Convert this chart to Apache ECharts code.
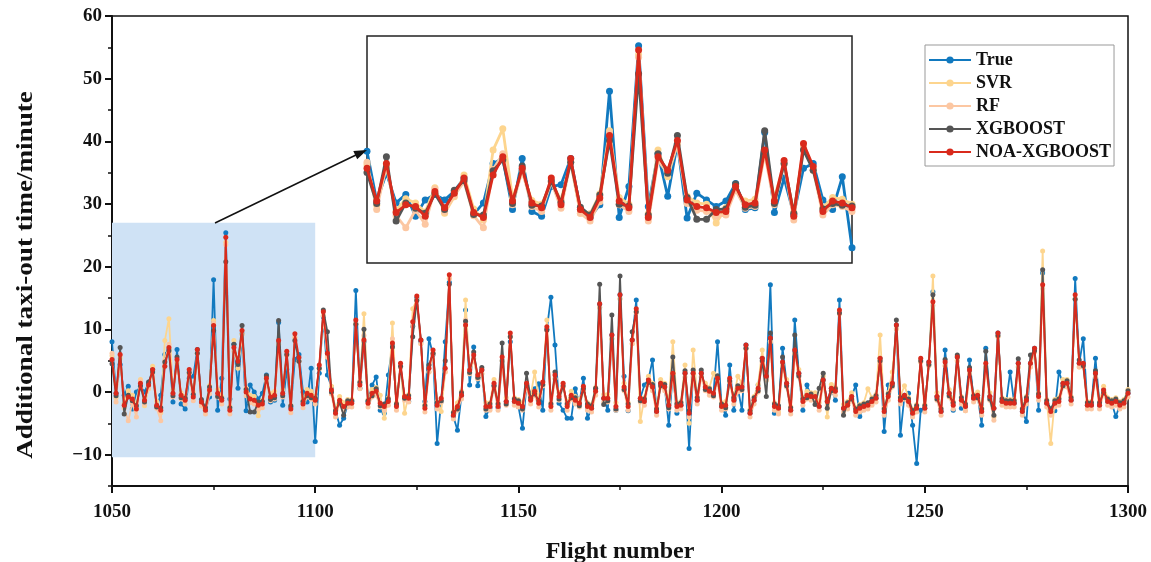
<!DOCTYPE html>
<html>
<head>
<meta charset="utf-8">
<script src="https://cdn.jsdelivr.net/npm/echarts/dist/echarts.min.js"></script>
<style>
  html, body { margin: 0; padding: 0; background: #fff; }
  #chart { width: 1151px; height: 562px; }
</style>
</head>
<body>
<div id="chart"></div>
<script>
// flight numbers run 1050 .. 1300, one value per flight
const firstFlight = 1050
const lastFlight = 1300

const trueVals = [
  8.0, -0.2, 4.4, -0.5, 0.9, -2.7, 0.0, 0.9, 0.0, 1.4,
  3.6, -2.4, -0.5, 6.0, 6.8, -1.6, 6.8, -1.9, -2.7, 2.2,
  2.5, 6.8, -1.6, -2.9, -0.8, 17.9, -2.9, 2.2, 25.4, -1.1,
  7.6, 0.6, 9.3, -3.0, 1.1, 0.0, -1.1, -0.2, 2.7, -1.6,
  -1.3, 11.1, -2.1, 3.6, -2.4, 5.2, 6.0, 0.0, -1.6, 3.8,
  -7.9, 3.0, 12.0, 2.7, 0.8, -3.0, -5.3, -4.2, -2.0, -1.5,
  16.2, 0.6, 8.0, -1.5, 1.1, 2.4, -2.9, -3.4, 2.7, 7.5,
  -2.0, 4.0, -1.0, -1.5, 10.5, 15.0, 8.0, -1.5, 8.5, 6.0,
  -8.2, -1.5, 8.0, 17.5, -3.9, -6.1, -0.5, 13.1, 1.1, 7.2,
  1.0, 3.5, -3.9, -2.5, 1.0, -2.5, 5.0, -1.5, 8.0, -1.5,
  -2.3, -5.8, 1.0, -0.2, 0.5, 1.3, -2.9, 10.0, 15.1, 7.5,
  -1.8, -2.9, -4.2, -4.2, 0.5, -1.8, 2.2, -4.2, -2.6, 0.5,
  14.0, -1.0, -2.9, 9.1, -2.9, 15.5, 2.5, -3.0, 8.3, 14.7,
  -1.0, 1.1, 2.0, 5.1, -3.1, 1.4, 0.8, -5.3, 3.0, -3.4,
  -2.1, 3.0, -9.0, 3.0, -1.3, 3.0, 0.8, 0.1, -0.2, 8.0,
  -2.3, -3.7, 4.3, -2.9, 0.6, -2.9, 7.5, -3.4, -1.3, 1.1,
  5.4, 2.5, 17.1, -3.4, -2.6, 7.0, 1.4, -2.9, 11.5, 3.0,
  -2.9, 1.1, -0.7, -0.7, -2.3, 1.9, -1.5, 0.6, -1.3, 14.7,
  -2.6, -2.1, -0.7, 1.1, -3.9, -2.3, -2.1, -1.5, -1.0, 5.4,
  -6.3, 1.1, 1.4, 10.7, -6.9, -0.5, -0.2, -5.3, -11.4, -2.9,
  -2.6, 4.8, 16.0, -0.7, -3.1, 6.7, -0.2, -2.9, 5.6, -2.6,
  -2.3, 5.1, -1.0, -0.5, -5.3, 7.0, -0.7, -2.6, 9.4, -1.5,
  -1.8, 3.2, -1.8, 4.6, -3.1, -4.7, 4.6, 7.0, -2.9, 19.0,
  -1.8, -3.1, -3.0, 3.2, 1.4, 1.4, -1.3, 18.1, 4.6, 8.5,
  -2.1, -2.1, 5.4, -2.1, 0.3, -1.5, -1.8, -3.9, -2.1, -1.8,
  -0.2
]

const svrVals = [
  5.8, -0.9, 5.4, -1.8, 0.2, -0.5, -2.0, 2.0, -2.2, 0.5,
  4.1, -1.5, -3.3, 8.2, 11.7, 0.4, 4.6, -0.1, -0.7, 2.9,
  0.0, 6.2, -2.2, -2.3, 1.0, 11.4, 0.4, -0.7, 23.9, -2.3,
  8.2, 3.8, 9.2, 0.6, -0.5, -0.7, -3.8, -1.3, 1.6, -0.2,
  0.1, 7.6, 0.4, 5.9, -2.1, 8.7, 4.9, -1.3, 0.4, 0.1,
  -0.7, 3.7, 12.2, 5.6, 0.9, -2.8, -0.7, -1.7, -1.2, -1.2,
  10.9, 1.7, 12.5, -1.2, 0.4, 0.7, -0.5, -4.2, -0.9, 11.0,
  -1.7, 4.0, -3.4, -0.4, 13.3, 14.7, 7.7, -2.0, 3.2, 6.1,
  -1.5, -3.1, 3.2, 18.1, -3.1, -1.7, 0.1, 14.7, 2.9, 5.3,
  2.1, 2.9, -1.7, -1.7, 2.0, -1.7, 5.0, -0.9, 8.8, -0.9,
  -1.2, -1.7, 0.8, -0.7, 3.2, -1.2, 1.0, 11.5, -1.7, 2.1,
  -0.1, 0.8, -1.7, 0.1, -0.7, -1.2, 0.3, -1.7, -2.0, 0.7,
  13.5, -0.4, -0.4, 8.5, -1.7, 14.9, 1.4, -1.7, 7.7, 12.7,
  -4.7, -0.9, 2.5, 1.4, -2.5, 2.0, 1.4, -1.5, 8.0, -1.7,
  -1.5, 4.3, -5.0, 6.7, -0.7, 2.4, 1.4, 0.7, 3.0, 1.6,
  -1.7, -1.5, 1.6, -0.7, 2.5, 1.4, 6.9, -2.8, -0.7, 1.2,
  6.7, 1.9, 8.0, -1.7, -3.2, 4.2, 2.0, -2.3, 6.1, 3.6,
  -0.9, 0.1, -0.1, -0.1, -1.7, 2.5, -4.0, 1.2, 0.7, 12.5,
  -2.0, -1.5, -0.1, -2.5, -2.0, -1.7, 0.5, -0.9, -0.4, 9.1,
  -2.5, -0.1, 3.2, 10.1, -0.7, 1.0, -0.9, -2.8, -2.0, 4.8,
  -2.0, 4.2, 18.5, -0.1, -2.5, 4.2, 0.4, -1.5, 5.0, -0.7,
  -3.0, 2.9, -0.4, 0.0, -2.5, 4.0, -0.1, -4.0, 8.8, -0.9,
  -1.2, -1.2, -1.2, 4.0, -2.5, -0.7, 4.0, 6.4, -0.1, 22.5,
  -1.2, -8.2, -1.2, -0.9, 2.0, 2.0, -0.7, 14.9, 4.0, 4.0,
  -1.5, -1.5, 2.4, -1.5, 0.9, -0.9, -1.2, -0.9, -1.5, -1.2,
  0.4
]

const rfVals = [
  6.2, -1.6, 5.8, -2.6, -4.6, -1.7, -4.0, 1.8, -1.9, 0.7,
  3.0, -2.6, -4.6, 5.0, 7.6, -0.8, 4.8, -1.1, -1.9, 3.0,
  -1.4, 6.2, -2.2, -3.5, -0.3, 11.0, -0.8, -1.9, 23.5, -3.5,
  6.5, 4.3, 9.2, -0.6, -1.7, -1.9, -2.7, -2.5, 1.6, -1.4,
  -1.1, 7.6, -0.8, 5.9, -3.3, 8.7, 4.9, -2.5, -0.8, -1.1,
  -1.9, 3.7, 12.2, 5.6, -0.3, -4.0, -1.9, -2.9, -2.4, -2.4,
  10.9, 0.5, 9.0, -2.4, -0.8, -0.5, -2.4, -2.9, -2.1, 8.5,
  -2.9, 4.0, -1.3, -1.6, 10.6, 14.7, 7.7, -3.2, 3.2, 6.1,
  -2.7, -1.6, 3.2, 18.1, -4.3, -2.9, -1.1, 11.5, 2.9, 5.3,
  2.1, 2.9, -2.9, -2.9, 0.8, -2.9, 5.0, -2.1, 8.8, -2.1,
  -2.4, -2.9, 0.8, -1.9, -0.5, -2.4, 1.0, 9.8, -2.9, 2.1,
  -1.3, 0.8, -2.9, -1.1, -1.9, -2.4, 0.3, -2.9, -3.2, -0.5,
  13.5, -1.6, -1.6, 8.5, -2.9, 14.9, 0.2, -2.9, 7.7, 12.7,
  -1.6, -2.1, 1.3, 0.2, -3.7, 0.8, 0.2, -2.7, 2.4, -2.9,
  -2.7, 2.4, -4.0, 2.4, -1.9, 2.4, 0.2, -0.5, -0.8, 1.6,
  -2.9, -2.7, 1.6, -1.9, 0.0, 0.2, 6.9, -4.0, -1.9, 0.0,
  4.8, 1.9, 8.0, -2.9, -3.5, 4.2, 0.8, -3.5, 6.1, 2.4,
  -2.1, -1.1, -1.3, -1.3, -2.9, 1.3, -2.1, 0.0, -0.5, 12.5,
  -3.2, -2.7, -1.3, -3.7, -3.2, -2.9, -2.7, -2.1, -1.6, 4.8,
  -3.7, -1.3, 0.8, 10.1, -1.9, -1.1, -2.1, -4.0, -3.2, 4.8,
  -3.2, 4.2, 13.8, -1.3, -3.7, 4.2, -0.8, -2.7, 5.0, -1.9,
  -3.0, 2.9, -1.6, -1.1, -3.7, 4.0, -1.3, -4.5, 8.8, -2.1,
  -2.4, -2.4, -2.4, 4.0, -3.7, -1.9, 4.0, 6.4, -1.3, 16.5,
  -2.4, -3.7, -2.4, -2.1, 0.8, 0.8, -1.9, 14.9, 4.0, 4.0,
  -2.7, -2.7, 2.4, -2.7, -0.3, -2.1, -2.4, -2.1, -2.7, -2.4,
  -0.8
]

const xgbVals = [
  4.5, -0.6, 7.1, -3.5, -0.5, -1.4, -2.2, 1.0, -1.6, 1.6,
  3.2, -2.4, -2.5, 4.8, 6.6, -0.6, 5.6, -0.9, -1.0, 3.1,
  -0.4, 6.2, -1.2, -2.5, 0.8, 9.8, -0.7, -1.0, 20.8, -2.5,
  7.6, 4.4, 10.6, 0.4, -3.2, -3.2, -1.6, -1.5, 2.6, -1.2,
  -0.9, 11.4, -0.6, 6.0, -2.2, 8.2, 4.9, -1.5, -0.6, -0.9,
  -1.0, 3.8, 13.1, 9.6, 0.0, -3.0, -1.7, -3.7, -1.4, -1.4,
  10.8, 1.5, 10.0, -1.4, -0.6, 0.5, -2.2, -1.9, -1.1, 7.2,
  -1.9, 4.1, -1.0, -0.6, 8.8, 14.6, 8.3, -2.2, 4.3, 6.2,
  -1.7, -1.4, 5.0, 17.2, -3.3, -2.7, -0.1, 11.3, 3.1, 6.4,
  2.3, 3.9, -2.7, -1.9, 1.0, -1.9, 7.8, -1.9, 8.8, -1.1,
  -1.4, -2.7, 3.0, -0.9, -0.3, -1.4, 1.2, 9.9, -1.9, 3.2,
  -1.1, 1.0, -1.9, -0.9, -0.9, -2.2, 0.5, -1.9, -2.2, 0.6,
  17.2, -2.0, -1.4, 12.3, -2.7, 18.5, 0.4, -1.9, 9.6, 12.8,
  -1.4, -1.1, 1.5, 1.2, -2.7, 1.0, 1.2, -2.5, 5.6, -1.9,
  -1.7, 3.4, -3.0, 3.5, -0.9, 3.5, 0.4, 0.5, -0.6, 2.6,
  -1.9, -2.5, 1.8, -0.9, 1.0, 0.4, 7.0, -3.0, -0.9, 0.2,
  5.0, -0.7, 9.4, -1.9, -2.2, 5.6, 1.0, -2.5, 9.1, 2.6,
  -1.1, -0.9, -0.3, -2.0, 0.6, 3.0, -2.6, 0.2, 0.5, 12.6,
  -3.7, -1.7, -1.1, -2.7, -2.2, -1.9, -1.7, -1.1, -0.6, 5.0,
  -2.7, -0.3, 1.0, 11.5, -0.9, -0.9, -1.1, -3.0, -2.2, 5.0,
  -2.2, 4.4, 15.5, -1.1, -2.7, 5.2, -0.6, -1.7, 5.9, -0.9,
  -1.9, 3.9, -0.6, -0.9, -2.7, 6.5, -1.1, -3.7, 9.0, -1.1,
  -1.4, -1.4, -1.4, 5.3, -2.7, -0.9, 5.9, 6.6, -0.3, 19.5,
  -1.4, -2.7, -1.4, -1.1, 1.0, 1.8, -0.9, 14.8, 5.1, 4.2,
  -1.7, -1.7, 3.4, -1.7, -0.1, -1.1, -1.4, -1.1, -1.7, -1.4,
  0.2
]

const noaVals = [
  5.2, -0.2, 6.0, -2.1, -0.8, -1.1, -2.7, 1.4, -1.3, 1.1,
  3.6, -2.1, -2.9, 4.1, 7.1, -0.2, 5.2, -0.5, -1.3, 3.6,
  -0.8, 6.8, -1.6, -2.9, 0.3, 10.6, -0.2, -1.3, 24.7, -2.9,
  7.1, 4.9, 9.8, 0.0, -1.1, -1.3, -2.1, -1.9, 2.2, -0.8,
  -0.5, 8.2, -0.2, 6.5, -2.7, 9.3, 5.5, -1.9, -0.2, -0.5,
  -1.3, 4.3, 12.8, 6.2, 0.3, -3.4, -1.3, -2.3, -1.8, -1.8,
  11.5, 1.1, 8.3, -1.8, -0.2, 0.1, -1.8, -2.3, -1.5, 7.8,
  -2.3, 4.6, -0.7, -1.0, 11.2, 15.3, 8.3, -2.6, 3.8, 6.7,
  -2.1, -1.0, 3.8, 18.7, -3.7, -2.3, -0.5, 10.7, 3.5, 5.9,
  2.7, 3.5, -2.3, -2.3, 1.4, -2.3, 5.6, -1.5, 9.4, -1.5,
  -1.8, -2.3, 1.4, -1.3, 0.1, -1.8, 1.6, 10.4, -2.3, 2.7,
  -0.7, 1.4, -2.3, -0.5, -1.3, -1.8, 0.9, -2.3, -2.6, 0.1,
  14.1, -1.0, -1.0, 9.1, -2.3, 15.5, 0.8, -2.3, 8.3, 13.3,
  -1.0, -1.5, 1.9, 0.8, -3.1, 1.4, 0.8, -2.1, 3.0, -2.3,
  -2.1, 3.0, -3.4, 3.0, -1.3, 3.0, 0.8, 0.1, -0.2, 2.2,
  -2.3, -2.1, 2.2, -1.3, 0.6, 0.8, 7.5, -3.4, -1.3, 0.6,
  5.4, 2.5, 8.6, -2.3, -2.6, 4.8, 1.4, -2.9, 6.7, 3.0,
  -1.5, -0.5, -0.7, -0.7, -2.3, 1.9, -1.5, 0.6, 0.1, 13.1,
  -2.6, -2.1, -0.7, -3.1, -2.6, -2.3, -2.1, -1.5, -1.0, 5.4,
  -3.1, -0.7, 1.4, 10.7, -1.3, -0.5, -1.5, -3.4, -2.6, 5.4,
  -2.6, 4.8, 14.4, -0.7, -3.1, 4.8, -0.2, -2.1, 5.6, -1.3,
  -2.3, 3.5, -1.0, -0.5, -3.1, 4.6, -0.7, -2.6, 9.4, -1.5,
  -1.8, -1.8, -1.8, 4.6, -3.1, -1.3, 4.6, 7.0, -0.7, 17.1,
  -1.8, -3.1, -1.8, -1.5, 1.4, 1.4, -1.3, 15.5, 4.6, 4.6,
  -2.1, -2.1, 3.0, -2.1, 0.3, -1.5, -1.8, -1.5, -2.1, -1.8,
  -0.2
]

const seriesNames = ['True', 'SVR', 'RF', 'XGBOOST', 'NOA-XGBOOST']
const seriesColors = ['#1179bf', '#fdd58e', '#fcc7a2', '#555555', '#d92a1c']
const seriesVals = [trueVals, svrVals, rfVals, xgbVals, noaVals]

const yMajor = [-10, 0, 10, 20, 30, 40, 50, 60]
const yMinor = [-15, -5, 5, 15, 25, 35, 45, 55]

// zoomed window shown in the inset
const zoomFrom = 1050
const zoomTo = 1100
const zoomLow = -10.4
const zoomHigh = 27

const font = 'Liberation Serif'
const yTitle = 'Additional taxi-out time/minute'

function toPairs (vals, from, to) {
  const out = []
  vals.forEach((v, i) => {
    const f = firstFlight + i
    if (f >= from && f <= to) out.push([f, v])
  })
  return out
}

const chart = echarts.init(document.getElementById('chart'))

const series = [
  {
    // light blue box marking the zoomed window
    type: 'line',
    xAxisIndex: 0,
    yAxisIndex: 0,
    data: [],
    z: 1,
    silent: true,
    markArea: {
      silent: true,
      itemStyle: { color: '#cfe2f5' },
      data: [[{ xAxis: zoomFrom, yAxis: zoomLow }, { xAxis: zoomTo, yAxis: zoomHigh }]]
    }
  }
]

seriesNames.forEach((name, k) => {
  series.push({
    name: name,
    type: 'line',
    xAxisIndex: 0,
    yAxisIndex: 0,
    data: toPairs(seriesVals[k], firstFlight, lastFlight),
    symbol: 'circle',
    symbolSize: 5,
    color: seriesColors[k],
    lineStyle: { width: 1.8 },
    z: 2 + k
  })
})

seriesNames.forEach((name, k) => {
  series.push({
    name: name,
    type: 'line',
    xAxisIndex: 1,
    yAxisIndex: 2,
    data: toPairs(seriesVals[k], zoomFrom, zoomTo),
    symbol: 'circle',
    symbolSize: 7,
    color: seriesColors[k],
    lineStyle: { width: 2.8 },
    z: 10 + k
  })
})

const option = {
  animation: false,
  backgroundColor: '#fff',
  grid: [
    {
      left: 112, top: 16, width: 1016, height: 470,
      outerBoundsMode: 'none',
      show: true, borderColor: '#111', borderWidth: 1.5
    },
    {
      left: 367, top: 36, width: 485, height: 227,
      outerBoundsMode: 'none',
      show: true, borderColor: '#222', borderWidth: 1.5, backgroundColor: '#fff'
    }
  ],
  legend: {
    data: seriesNames,
    orient: 'vertical',
    left: 925,
    top: 45,
    itemWidth: 42,
    itemHeight: 9,
    itemGap: 5,
    padding: [6, 3, 5, 3],
    borderColor: '#999',
    borderWidth: 1,
    backgroundColor: '#fff',
    textStyle: { fontFamily: font, fontWeight: 'bold', fontSize: 18, color: '#111' }
  },
  xAxis: [
    {
      type: 'value',
      gridIndex: 0,
      min: firstFlight,
      max: lastFlight,
      interval: 50,
      name: 'Flight number',
      nameLocation: 'middle',
      nameGap: 54,
      nameTextStyle: { fontFamily: font, fontWeight: 'bold', fontSize: 24, color: '#111' },
      axisLine: { onZero: false, lineStyle: { color: '#111', width: 2 } },
      axisTick: { length: 7, lineStyle: { color: '#111', width: 2 } },
      minorTick: { show: true, splitNumber: 2, length: 4, lineStyle: { color: '#111', width: 1.5 } },
      axisLabel: {
        fontFamily: font, fontWeight: 'bold', fontSize: 19, color: '#111', margin: 17,
        formatter: v => String(v)
      },
      splitLine: { show: false }
    },
    {
      type: 'value',
      gridIndex: 1,
      min: zoomFrom,
      max: zoomTo,
      show: false
    }
  ],
  yAxis: [
    {
      type: 'value',
      gridIndex: 0,
      position: 'left',
      min: -15,
      max: 60,
      interval: 5,
      axisLine: { onZero: false, lineStyle: { color: '#111', width: 2 } },
      axisTick: { customValues: yMajor, length: 7, lineStyle: { color: '#111', width: 2 } },
      axisLabel: {
        customValues: yMajor, fontFamily: font, fontWeight: 'bold', fontSize: 19, color: '#111', margin: 10,
        formatter: v => String(v).replace('-', '\u2212')
      },
      splitLine: { show: false }
    },
    {
      type: 'value',
      gridIndex: 0,
      position: 'left',
      min: -15,
      max: 60,
      interval: 5,
      axisLine: { show: false, onZero: false },
      axisTick: { customValues: yMinor, length: 4, lineStyle: { color: '#111', width: 1.5 } },
      axisLabel: { show: false },
      splitLine: { show: false }
    },
    {
      type: 'value',
      gridIndex: 1,
      min: zoomLow,
      max: zoomHigh,
      show: false
    }
  ],
  graphic: [
    {
      // y axis title, stretched a little along its length like the original
      type: 'text',
      x: 26,
      y: 275,
      rotation: Math.PI / 2,
      scaleX: 1.13,
      style: {
        text: yTitle,
        font: 'bold 24px "Liberation Serif"',
        fill: '#111',
        align: 'center',
        verticalAlign: 'middle'
      }
    },
    {
      type: 'line',
      shape: { x1: 215, y1: 223, x2: 358, y2: 154 },
      style: { stroke: '#111', lineWidth: 1.5 },
      z: 100
    },
    {
      type: 'polygon',
      shape: { points: [[367, 150], [357.2, 159.3], [353.3, 151.1]] },
      style: { fill: '#111' },
      z: 100
    }
  ],
  series: series
}

chart.setOption(option)
</script>
</body>
</html>
